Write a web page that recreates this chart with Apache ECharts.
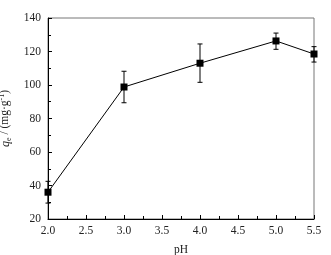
<!DOCTYPE html>
<html>
<head>
<meta charset="utf-8">
<script src="https://cdn.jsdelivr.net/npm/echarts@6/dist/echarts.min.js"></script>
<style>
  html, body { margin: 0; padding: 0; background: #fff; }
  #chart { width: 331px; height: 255px; }
</style>
</head>
<body>
<div id="chart"></div>
<script>
// values
const phValues = [2.0, 3.0, 4.0, 5.0, 5.5];
const qeValues = [36, 98.8, 113, 126.3, 118.5];
const qeLower = [29.5, 89.4, 101.6, 121.3, 113.7];
const qeUpper = [42.5, 108.2, 124.5, 131, 122.9];

const font = 'Liberation Serif, Times New Roman, serif';
const textColor = '#222';

const pointData = phValues.map((x, i) => [x, qeValues[i]]);
const errorData = phValues.map((x, i) => [x, qeLower[i], qeUpper[i]]);

const myChart = echarts.init(document.getElementById('chart'));

const axisCommon = {
  axisLine: { show: true, lineStyle: { color: '#000', width: 1 } },
  axisTick: { show: true, inside: true, length: 4, lineStyle: { color: '#000' } },
  minorTick: { show: true, splitNumber: 2, length: 3, lineStyle: { color: '#000' } },
  splitLine: { show: false },
  minorSplitLine: { show: false },
};

const option = {
  animation: false,
  backgroundColor: '#fff',
  grid: {
    left: 48, right: 17, top: 18, bottom: 36,
    outerBoundsMode: 'none',
    containLabel: false,
    show: true, borderColor: '#777', borderWidth: 1,
  },
  xAxis: {
    type: 'value',
    min: 2.0, max: 5.5, interval: 0.5,
    name: 'pH',
    nameLocation: 'middle',
    nameGap: 25,
    nameTextStyle: { fontFamily: font, fontSize: 11.5, color: textColor },
    axisLabel: {
      margin: 6, fontFamily: font, fontSize: 11.5, color: textColor,
      formatter: (v) => v.toFixed(1),
    },
    ...axisCommon,
  },
  yAxis: {
    type: 'value',
    min: 20, max: 140, interval: 20,
    name: '{q|q}{e|e}{n| / (mg·g}{s|-1}{n|)}',
    nameLocation: 'middle',
    nameRotate: 90,
    nameGap: 31,
    nameTextStyle: {
      fontFamily: font, fontSize: 11.5, color: textColor,
      rich: {
        q: { fontFamily: font, fontSize: 12, fontStyle: 'italic', color: textColor, lineHeight: 15 },
        n: { fontFamily: font, fontSize: 11.5, color: textColor, lineHeight: 15 },
        e: { fontFamily: font, fontSize: 8, color: textColor, lineHeight: 10, verticalAlign: 'bottom' },
        s: { fontFamily: font, fontSize: 8, color: textColor, lineHeight: 10, verticalAlign: 'top' },
      },
    },
    axisLabel: { margin: 7, fontFamily: font, fontSize: 11.5, color: textColor },
    ...axisCommon,
  },
  series: [
    {
      // error bars
      type: 'custom',
      z: 1,
      renderItem: (params, api) => {
        const x = api.value(0);
        const lo = api.coord([x, api.value(1)]);
        const hi = api.coord([x, api.value(2)]);
        const cap = 2.5;
        const style = { stroke: '#000', lineWidth: 1 };
        return {
          type: 'group',
          children: [
            { type: 'line', shape: { x1: lo[0], y1: lo[1], x2: hi[0], y2: hi[1] }, style },
            { type: 'line', shape: { x1: lo[0] - cap, y1: lo[1], x2: lo[0] + cap, y2: lo[1] }, style },
            { type: 'line', shape: { x1: hi[0] - cap, y1: hi[1], x2: hi[0] + cap, y2: hi[1] }, style },
          ],
        };
      },
      encode: { x: 0, y: [1, 2] },
      data: errorData,
    },
    {
      type: 'line',
      z: 2,
      data: pointData,
      symbol: 'rect',
      symbolSize: 7,
      itemStyle: { color: '#000' },
      lineStyle: { color: '#000', width: 1 },
    },
  ],
};

myChart.setOption(option);
</script>
</body>
</html>
